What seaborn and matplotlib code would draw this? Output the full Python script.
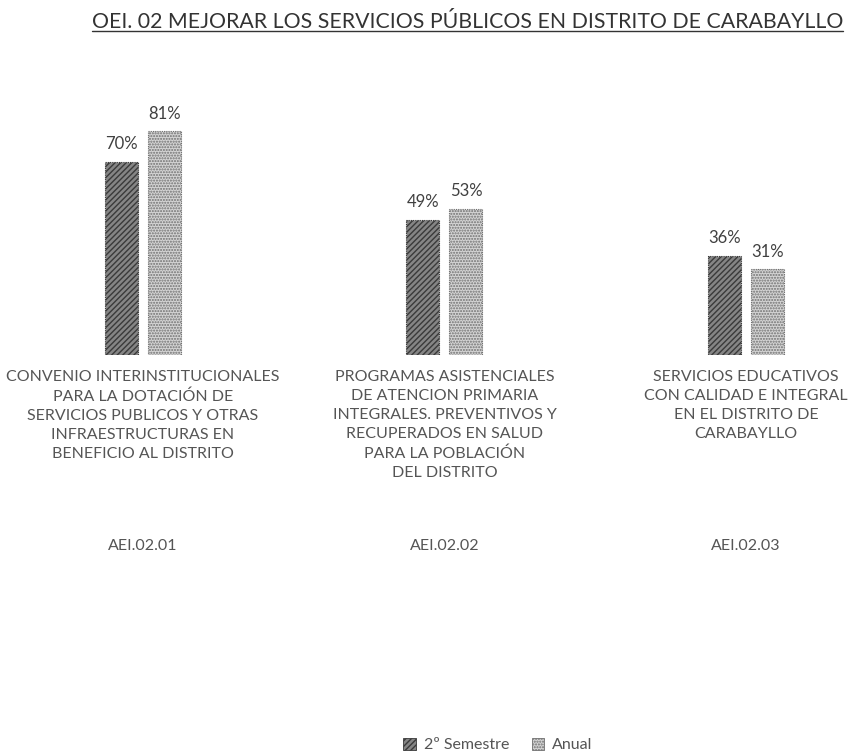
import matplotlib
matplotlib.use("Agg")
import matplotlib.pyplot as plt
import seaborn as sns
import pandas as pd
from matplotlib.patches import Patch
from matplotlib.lines import Line2D

# ---- data ----
codes = ["AEI.02.01", "AEI.02.02", "AEI.02.03"]
descriptions = [
    "CONVENIO INTERINSTITUCIONALES\nPARA LA DOTACIÓN DE\nSERVICIOS PUBLICOS Y OTRAS\nINFRAESTRUCTURAS EN\nBENEFICIO AL DISTRITO",
    "PROGRAMAS ASISTENCIALES\nDE ATENCION PRIMARIA\nINTEGRALES. PREVENTIVOS Y\nRECUPERADOS EN SALUD\nPARA LA POBLACIÓN\nDEL DISTRITO",
    "SERVICIOS EDUCATIVOS\nCON CALIDAD E INTEGRAL\nEN EL DISTRITO DE\nCARABAYLLO",
]
series_names = ["2º Semestre", "Anual"]
semestre = [70, 49, 36]
anual = [81, 53, 31]
title = "OEI. 02 MEJORAR LOS SERVICIOS PÚBLICOS EN DISTRITO DE CARABAYLLO"

df = pd.DataFrame({
    "code": codes * 2,
    "serie": [series_names[0]] * 3 + [series_names[1]] * 3,
    "value": semestre + anual,
})

sns.set_theme(style="white")
plt.rcParams["font.family"] = ["Lato", "DejaVu Sans"]

W, H = 853, 753
fig = plt.figure(figsize=(W / 100, H / 100), dpi=100)
ax = fig.add_axes([0, (H - 355) / H, 1, 276 / H])

fills = ["#858585", "#d4d4d4"]
hatches = ["//////", "......"]
edges = ["#3a3a3a", "#707070"]

sns.barplot(data=df, x="code", y="value", hue="serie", palette=fills,
            width=0.285, gap=0.23, ax=ax, legend=False, saturation=1)

for cont, hc, ec in zip(ax.containers, hatches, edges):
    for p in cont:
        p.set_hatch(hc)
        p.set_edgecolor(ec)
        p.set_linewidth(0.8)
        p.set_linestyle((0, (1, 1)))
    ax.bar_label(cont, labels=[f"{int(round(v))}%" for v in cont.datavalues],
                 padding=7, fontsize=12, color="#404040")

ax.set_xlim(-0.474, 2.355)
ax.set_ylim(0, 100)
for s in ax.spines.values():
    s.set_visible(False)
ax.set_yticks([])
ax.set_xticks(range(3))
ax.set_xticklabels(descriptions, fontsize=11.5, color="#555555", linespacing=1.45)
ax.tick_params(axis="x", length=0, pad=11)
ax.set_xlabel("")
ax.set_ylabel("")

for i, c in enumerate(codes):
    ax.annotate(c, xy=(i, 0), xycoords=("data", "axes fraction"),
                xytext=(0, -(546 - 355)), textcoords="offset pixels",
                ha="center", va="center", fontsize=11.5, color="#555555")

handles = [Patch(facecolor=fills[k], edgecolor=edges[k], hatch=hatches[k],
                 linewidth=0.6) for k in range(2)]
fig.legend(handles, series_names, loc="center left", bbox_to_anchor=(403 / W, 1 - 745 / H),
           ncol=2, frameon=False, fontsize=11.5, handlelength=0.8, handleheight=0.8,
           columnspacing=1.4, handletextpad=0.5, labelcolor="#555555",
           borderpad=0, borderaxespad=0)

# title, fitted to the span it covers in the reference
t = fig.text(92 / W, 1 - 22 / H, title, ha="left", va="center",
             fontsize=13.5, color="#333333")
fig.canvas.draw()
bb = t.get_window_extent()
t.set_fontsize(13.5 * (845 - 92) / bb.width)
fig.canvas.draw()
bb = t.get_window_extent()
uy = (bb.y0 + 1) / H
fig.add_artist(Line2D([bb.x0 / W, bb.x1 / W], [uy, uy], transform=fig.transFigure,
                      color="#333333", linewidth=1.0))

fig.savefig("out.png", dpi=100)
